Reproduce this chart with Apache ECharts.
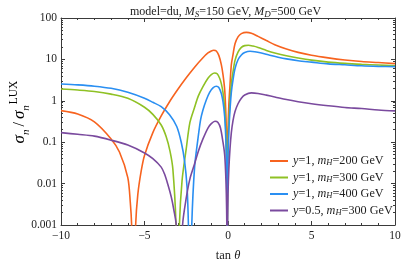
<!DOCTYPE html>
<html>
<head>
<meta charset="utf-8">
<script src="https://cdn.jsdelivr.net/npm/echarts@6/dist/echarts.min.js"></script>
<style>html,body{margin:0;padding:0;background:#fff}#c{width:408px;height:260px}</style>
</head>
<body>
<div id="c"></div>
<script>
// ---- data ----
const yukawa = ['1', '1', '1', '0.5'];
const massH = ['200', '300', '400', '300'];
const seriesNames = ['y=1, mH=200 GeV', 'y=1, mH=300 GeV', 'y=1, mH=400 GeV', 'y=0.5, mH=300 GeV'];
const xTicks = [-10, -5, 0, 5, 10];
const yTicks = [0.001, 0.01, 0.1, 1, 10, 100];

const tan_y1_m200 = [-10, -9, -8, -7, -6.5, -6, -5.85, -5.77, -5.65, -5.53, -5.4, -5.2, -5, -4.5, -4, -3.5, -3, -2.5, -2, -1.5, -1.2, -1, -0.85, -0.7, -0.55, -0.4, -0.3, -0.2, -0.14, -0.1, -0.07, -0.05, -0.03, 0, 0.05, 0.12, 0.2, 0.3, 0.42, 0.6, 0.8, 1.1, 1.4, 1.8, 2.3, 2.8, 3.5, 4.2, 5, 6, 7, 8, 9, 10];
const sig_y1_m200 = [0.58, 0.48, 0.31, 0.12, 0.058, 0.014, 0.0035, 0.001, 0.00001, 0.001, 0.0055, 0.02, 0.048, 0.17, 0.43, 0.95, 1.9, 3.6, 6.5, 11, 14.3, 16, 16.6, 16, 12.5, 7.5, 4.3, 1.9, 0.65, 0.2, 0.032, 0.00001, 0.032, 0.2, 0.8, 2.4, 7.5, 13, 24, 35, 42, 45, 43, 36, 28.5, 22.6, 17.8, 14.8, 12.6, 10.9, 9.7, 8.9, 8.4, 7.9];

const tan_y1_m300 = [-10, -9, -8, -7, -6, -5, -4.5, -4, -3.7, -3.47, -3.3, -3.11, -3.0, -2.91, -2.75, -2.5, -2.28, -2, -1.78, -1.5, -1.2, -1, -0.8, -0.65, -0.5, -0.4, -0.3, -0.2, -0.14, -0.1, -0.07, -0.05, -0.03, 0, 0.05, 0.12, 0.2, 0.3, 0.42, 0.6, 0.8, 1.0, 1.22, 1.5, 1.8, 2.3, 2.8, 3.5, 4.2, 5, 6, 7, 8, 9, 10];
const sig_y1_m300 = [1.93, 1.82, 1.68, 1.45, 1.15, 0.7, 0.47, 0.26, 0.135, 0.06, 0.022, 0.001, 0.00001, 0.001, 0.012, 0.07, 0.3, 0.7, 1.3, 2.2, 3.5, 4.3, 4.7, 4.5, 3.5, 2.6, 1.6, 0.65, 0.24, 0.073, 0.012, 0.00001, 0.012, 0.073, 0.29, 1.0, 2.6, 5, 9.5, 15, 19.5, 21.5, 21.9, 21, 19.5, 16.5, 14.3, 12.2, 10.8, 9.6, 8.6, 8.0, 7.6, 7.3, 7.0];

const tan_y1_m400 = [-10, -9, -8, -7, -6, -5, -4.5, -4, -3.5, -3.07, -2.8, -2.6, -2.45, -2.37, -2.27, -2.17, -2.0, -1.8, -1.64, -1.5, -1.3, -1.1, -0.9, -0.7, -0.55, -0.4, -0.3, -0.2, -0.14, -0.1, -0.07, -0.05, -0.03, 0, 0.05, 0.12, 0.2, 0.3, 0.42, 0.6, 0.8, 1.0, 1.32, 1.6, 2.0, 2.5, 3, 3.5, 4.2, 5, 6, 7, 8, 9, 10];
const sig_y1_m400 = [2.55, 2.42, 2.25, 2.0, 1.6, 1.15, 0.92, 0.72, 0.46, 0.24, 0.1, 0.035, 0.008, 0.001, 0.00001, 0.001, 0.025, 0.12, 0.35, 0.6, 1.05, 1.6, 2.05, 2.24, 2.1, 1.5, 0.95, 0.42, 0.15, 0.045, 0.0072, 0.00001, 0.0072, 0.045, 0.18, 0.6, 1.6, 3.2, 6, 9.8, 12.8, 14.6, 15.7, 15.3, 14.2, 12.6, 11.3, 10.3, 9.3, 8.6, 7.8, 7.4, 7.0, 6.8, 6.7];

const tan_y05_m300 = [-10, -9, -8, -7, -6, -5, -4.5, -4, -3.8, -3.6, -3.4, -3.25, -3.1, -2.9, -2.72, -2.5, -2.28, -2, -1.78, -1.5, -1.2, -1.0, -0.78, -0.6, -0.45, -0.3, -0.2, -0.14, -0.1, -0.07, -0.05, -0.03, 0, 0.05, 0.12, 0.2, 0.3, 0.42, 0.6, 0.8, 1.0, 1.4, 1.8, 2.3, 2.8, 3.5, 4.2, 5, 6, 7, 8, 9, 10];
const sig_y05_m300 = [0.17, 0.155, 0.14, 0.112, 0.085, 0.055, 0.04, 0.025, 0.017, 0.0095, 0.0048, 0.0024, 0.001, 0.00001, 0.001, 0.0045, 0.013, 0.03, 0.06, 0.12, 0.22, 0.28, 0.32, 0.3, 0.22, 0.1, 0.05, 0.018, 0.0055, 0.001, 0.00001, 0.001, 0.0055, 0.022, 0.07, 0.17, 0.33, 0.55, 0.85, 1.15, 1.38, 1.55, 1.5, 1.37, 1.24, 1.07, 0.95, 0.85, 0.76, 0.69, 0.65, 0.6, 0.57];

// ---- chart ----
const colors = ['#f7631f', '#8fc124', '#2a8ff2', '#7a4a9e'];
const serif = '"Liberation Serif", "DejaVu Serif", serif';
const zip = (a, b) => a.map((v, i) => [v, b[i]]);
const allData = [
  zip(tan_y1_m200, sig_y1_m200),
  zip(tan_y1_m300, sig_y1_m300),
  zip(tan_y1_m400, sig_y1_m400),
  zip(tan_y05_m300, sig_y05_m300)
];
const minorY = [];
for (let e = -3; e <= 1; e++) for (let k = 2; k <= 9; k++) minorY.push(+(k * Math.pow(10, e)).toPrecision(3));

const frame = '#3a3a3a';
const baseX = {
  type: 'value', min: -10, max: 10, interval: 5,
  axisLine: { show: true, onZero: false, lineStyle: { color: frame, width: 1 } },
  axisTick: { show: true, inside: true, length: 4, lineStyle: { color: frame } },
  minorTick: { show: true, splitNumber: 5, length: 2, lineStyle: { color: frame } },
  splitLine: { show: false }, minorSplitLine: { show: false }
};
const baseY = {
  type: 'log', logBase: 10, min: 0.001, max: 100,
  axisLine: { show: true, onZero: false, lineStyle: { color: frame, width: 1 } },
  axisTick: { show: true, inside: true, length: 4, lineStyle: { color: frame } },
  splitLine: { show: false }
};
const minorYAxis = (pos) => ({
  type: 'log', logBase: 10, min: 0.001, max: 100, position: pos,
  axisLine: { show: false, onZero: false },
  axisTick: { show: true, inside: true, length: 2, customValues: minorY, lineStyle: { color: frame } },
  axisLabel: { show: false }, splitLine: { show: false }
});
const plain = { fontFamily: serif, color: '#222', fontWeight: 'normal' };

const chart = echarts.init(document.getElementById('c'), null, { renderer: 'canvas' });
chart.setOption({
  animation: false,
  color: colors,
  title: {
    text: '{t|model=du, }{i|M}{s|S}{t|=150 GeV, }{i|M}{s|D}{t|=500 GeV}',
    left: 125, top: -1,
    textStyle: {
      fontWeight: 'normal',
      rich: {
        t: Object.assign({}, plain, { fontSize: 12, lineHeight: 15, verticalAlign: 'middle' }),
        i: Object.assign({}, plain, { fontSize: 12, fontStyle: 'italic', lineHeight: 15, verticalAlign: 'middle' }),
        s: Object.assign({}, plain, { fontSize: 9, fontStyle: 'italic', lineHeight: 15, verticalAlign: 'bottom' })
      }
    }
  },
  graphic: [{
    type: 'text', x: 20, y: 112, rotation: Math.PI / 2,
    style: {
      text: '{i|σ}{s|n}{t|/}{i|σ}{s|n}{u|LUX}',
      align: 'center', verticalAlign: 'middle',
      rich: {
        i: Object.assign({}, plain, { fontSize: 17, fontStyle: 'italic', lineHeight: 24, verticalAlign: 'middle' }),
        t: Object.assign({}, plain, { fontSize: 16, lineHeight: 24, verticalAlign: 'middle', padding: [0, 3, 0, 3] }),
        s: Object.assign({}, plain, { fontSize: 11, fontStyle: 'italic', lineHeight: 24, verticalAlign: 'bottom' }),
        u: Object.assign({}, plain, { fontSize: 11.5, lineHeight: 24, verticalAlign: 'top', padding: [0, 0, 0, 1] })
      }
    }
  }],
  grid: { left: 61, right: 13, top: 18, bottom: 35, containLabel: false, outerBoundsMode: 'none' },
  legend: {
    orient: 'vertical', left: 265, top: 150,
    itemWidth: 18, itemHeight: 2, itemGap: 4, icon: 'rect',
    data: seriesNames,
    formatter: function (name) {
      const i = seriesNames.indexOf(name);
      return '{i|y}{t|=' + yukawa[i] + ', }{i|m}{s|H}{t|=' + massH[i] + ' GeV}';
    },
    textStyle: {
      padding: [0, 0, 0, 0],
      rich: {
        t: Object.assign({}, plain, { fontSize: 12.2, lineHeight: 13, verticalAlign: 'middle' }),
        i: Object.assign({}, plain, { fontSize: 12.2, fontStyle: 'italic', lineHeight: 13, verticalAlign: 'middle' }),
        s: Object.assign({}, plain, { fontSize: 8.5, fontStyle: 'italic', lineHeight: 13, verticalAlign: 'bottom' })
      }
    }
  },
  xAxis: [
    Object.assign({}, baseX, {
      position: 'bottom',
      name: '{n|tan }{i|θ}', nameLocation: 'middle', nameGap: 24,
      nameTextStyle: {
        rich: {
          n: Object.assign({}, plain, { fontSize: 12.5 }),
          i: Object.assign({}, plain, { fontSize: 12.5, fontStyle: 'italic' })
        }
      },
      axisLabel: {
        show: true, margin: 5, fontFamily: serif, fontSize: 11.5, color: '#222',
        customValues: xTicks,
        formatter: v => (v < 0 ? '\u2212' + Math.abs(v) : String(v))
      }
    }),
    Object.assign({}, baseX, { position: 'top', axisLabel: { show: false } })
  ],
  yAxis: [
    Object.assign({}, baseY, {
      position: 'left',
      axisLabel: {
        show: true, margin: 4, fontFamily: serif, fontSize: 11.5, color: '#222',
        customValues: yTicks,
        formatter: v => String(parseFloat((+v).toPrecision(3)))
      }
    }),
    Object.assign({}, baseY, { position: 'right', axisLabel: { show: false } }),
    minorYAxis('left'),
    minorYAxis('right')
  ],
  series: allData.map((d, i) => ({
    name: seriesNames[i], type: 'line', data: d,
    xAxisIndex: 0, yAxisIndex: 0,
    showSymbol: false, symbol: 'none', smooth: 0.3, clip: true,
    lineStyle: { width: 1.6, color: colors[i] }, z: 3
  }))
});
</script>
</body>
</html>
